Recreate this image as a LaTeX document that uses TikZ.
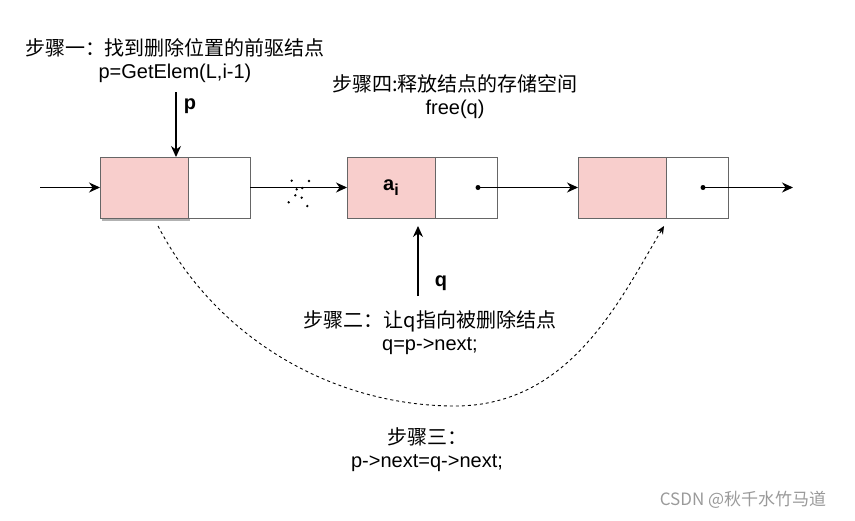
\documentclass[tikz,border=0pt]{standalone}
\usepackage{fontspec}
\setmainfont{Liberation Sans}
\newfontfamily\cjk{Noto Sans CJK SC}
\usetikzlibrary{positioning,arrows.meta,shadows}
\definecolor{nodePink}{HTML}{F8CECC}
\definecolor{boxEdge}{HTML}{666666}
\definecolor{markGray}{HTML}{9A9A9A}
\tikzset{
    dataBox/.style={
        rectangle,
        draw=boxEdge,
        fill=nodePink,
        line width=1pt,
        minimum width=88pt,
        minimum height=61pt,
        inner sep=0pt,
        outer sep=0pt,
        font=\fontsize{20}{23}\selectfont\bfseries
    },
    nextBox/.style={
        rectangle,
        draw=boxEdge,
        fill=white,
        line width=1pt,
        minimum width=62pt,
        minimum height=61pt,
        inner sep=0pt,
        outer sep=0pt
    },
    ptrDot/.style={circle, fill=black, inner sep=0pt, minimum size=5pt},
    stepText/.style={align=center, font=\fontsize{20}{23}\selectfont},
    ptrLabel/.style={font=\fontsize{20}{23}\selectfont\bfseries},
    % Arrows
    arr/.style={-{Stealth[length=11pt,width=10pt]}, line width=1.2pt},
    linkArr/.style={-{Stealth[length=8pt,width=7pt]}, line width=0.9pt, dash pattern=on 3pt off 3pt}
}
\begin{document}
\begin{tikzpicture}[x=1pt, y=-1pt]
\useasboundingbox (0,0) rectangle (855,520);

% list nodes
\node[dataBox, drop shadow={shadow xshift=2pt, shadow yshift=-3pt, fill=black!30, opacity=1}] (data1) at (144,187.5) {};
\node[nextBox, right=0pt of data1] (next1) {};
\node[dataBox, right=97pt of next1] (data2) {a\raisebox{-5pt}{\fontsize{16}{16}\selectfont i}};
\node[nextBox, right=0pt of data2] (next2) {};
\node[dataBox, right=81pt of next2] (data3) {};
\node[nextBox, right=0pt of data3] (next3) {};
\node[ptrDot] (dot2) at ([xshift=12pt]next2.center) {};
\node[ptrDot] (dot3) at ([xshift=6pt]next3.center) {};

% links
\coordinate (head) at (40,187.5);
\coordinate (tail) at (793,187.5);
\draw[arr] (head) -- (data1.west);
\draw[arr] (next1.east) -- (data2.west);
\draw[arr] (dot2.center) -- (data3.west);
\draw[arr] (dot3.center) -- (tail);

% broken link
\foreach \px/\py in {291.7/180.7, 309/181, 296.7/189.3, 302.3/188, 295.3/195.3, 301.7/197.7, 288.7/202.3, 307.3/206}
    \fill (\px,\py) circle (1.3pt);

% step texts
\node[stepText] (step1) at (175,61) {{\cjk 步骤一：找到删除位置的前驱结点}\\p=GetElem(L,i-1)};
\node[stepText] (step4) at (455,97) {{\cjk 步骤四:释放结点的存储空间}\\free(q)};
\node[stepText] (step2) at (430,333) {{\cjk 步骤二：让q指向被删除结点}\\q=p->next;};
\node[stepText] (step3) at (427,450) {{\cjk 步骤三：}\\p->next=q->next;};

% pointers
\coordinate (ptop) at (176,92);
\draw[arr] (ptop) -- (ptop |- data1.north);
\node[ptrLabel] (plabel) at (190,106) {p};
\coordinate (qbot) at (418,296);
\draw[arr] (qbot) -- ([yshift=-8pt]qbot |- data2.south);
\node[ptrLabel] (qlabel) at (441,283) {q};

% new link p->next
\coordinate (low) at (455,406);
\draw[linkArr] ([xshift=14pt,yshift=-8pt]data1.south) .. controls (220,345) and (340,406) .. (low)
    .. controls (570,406) and (620,300) .. ([xshift=-2pt,yshift=-8pt]data3.south east);

\node[font=\fontsize{17}{19}\selectfont\cjk, text=markGray] (mark) at (743,500) {CSDN @秋千水竹马道};
\end{tikzpicture}
\end{document}
